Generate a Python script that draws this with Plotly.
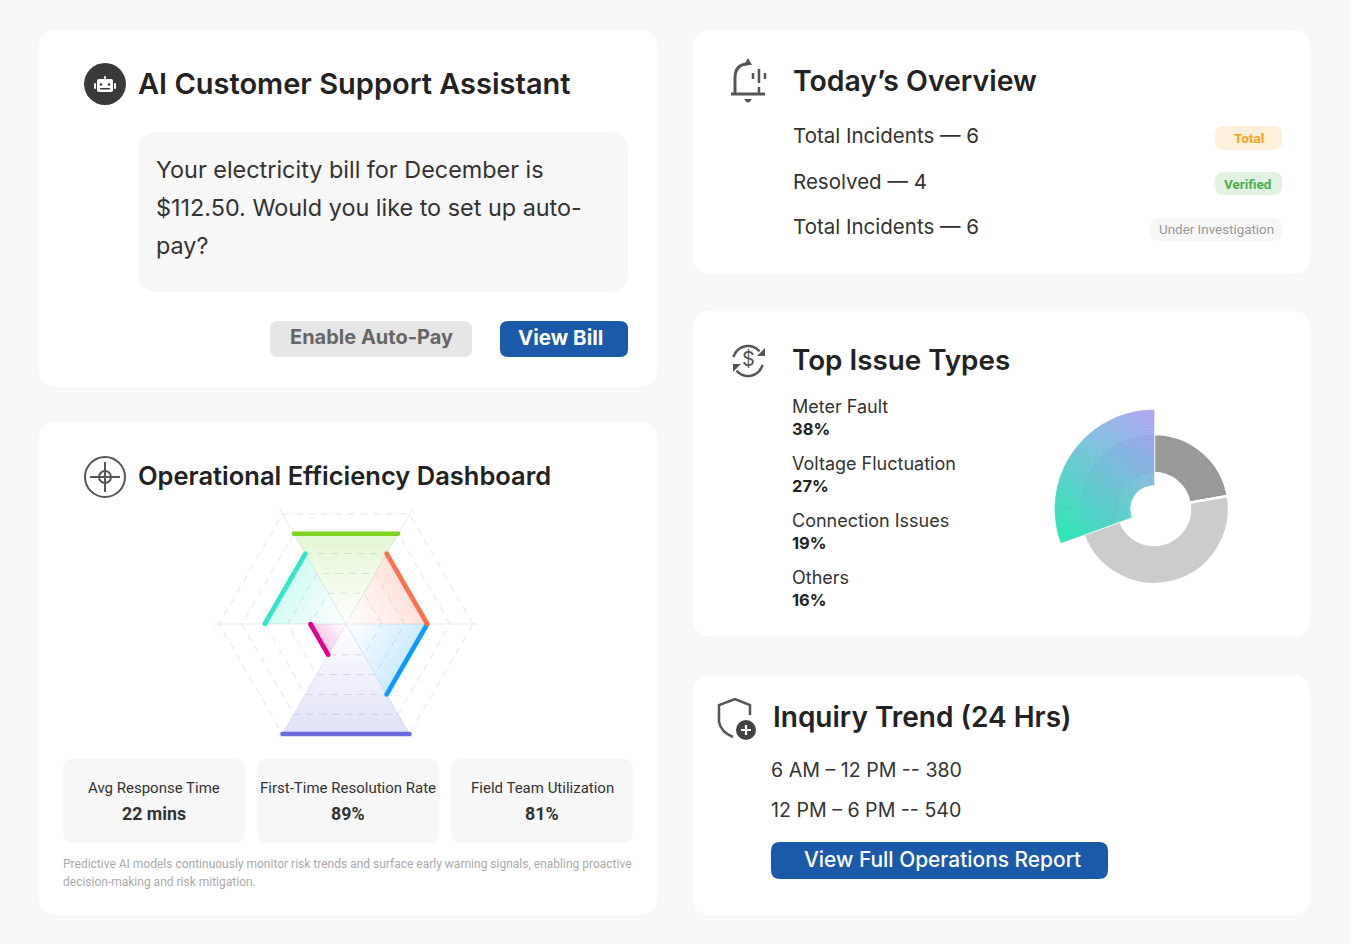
import numpy as np
import plotly.graph_objects as go

W, H = 1364, 944

# radar values, one per sector (outer ring = 100)
radar_vertices = ['East', 'North-East', 'North-West', 'West', 'South-West', 'South-East']
radar_start = [1, 2, 3, 4, 5, 0]
radar_values = [82, 64, 28, 100, 64, 64]
radar_colors = ['#7ed321', '#2ee6c8', '#e0008c', '#6c6ce0', '#0a9bff', '#ff6f50']
radar_rings = [28, 46, 64, 82, 100]

# donut slices in degrees
slice_names = ['Others', 'Voltage Fluctuation', 'Meter Fault']
slice_start = [0, 80, 250]
slice_end = [80, 250, 360]
slice_inner = [36, 36, 24]
slice_outer = [75, 75, 99]
slice_colors = ['#999999', '#cccccc', None]

issue_labels = ['Meter Fault', 'Voltage Fluctuation', 'Connection Issues', 'Others']
issue_percents = ['38%', '27%', '19%', '16%']
overview_rows = ['Total Incidents — 6', 'Resolved — 4', 'Total Incidents — 6']
trend_rows = ['6 AM – 12 PM -- 380', '12 PM – 6 PM -- 540']
stat_labels = ['Avg Response Time', 'First-Time Resolution Rate', 'Field Team Utilization']
stat_values = ['22 mins', '89%', '81%']
bubble_lines = ['Your electricity bill for December is',
                '$112.50. Would you like to set up auto-',
                'pay?']
caption_lines = ['Predictive AI models continuously monitor risk trends and surface early warning signals, enabling proactive',
                 'decision-making and risk mitigation.']

INK = '#222222'
ICON = '#555555'
BLUE = '#1a5aa8'
shapes = []
notes = []


def rrect(x0, y0, x1, y1, r, fill, layer='below'):
    p = (f'M{x0+r},{y0} L{x1-r},{y0} Q{x1},{y0} {x1},{y0+r} L{x1},{y1-r} Q{x1},{y1} {x1-r},{y1} '
         f'L{x0+r},{y1} Q{x0},{y1} {x0},{y1-r} L{x0},{y0+r} Q{x0},{y0} {x0+r},{y0} Z')
    shapes.append(dict(type='path', path=p, fillcolor=fill, line_width=0, layer=layer))


def stroke(path, color=ICON, width=2.5, fill=None):
    shapes.append(dict(type='path', path=path, line=dict(color=color, width=width),
                       fillcolor=fill, layer='above'))


def disc(cx, cy, r, fill=None, color=None, width=0):
    shapes.append(dict(type='circle', x0=cx-r, x1=cx+r, y0=cy-r, y1=cy+r, fillcolor=fill,
                       line=dict(color=color, width=width), layer='above'))


def arc(cx, cy, r, a0, a1):
    t = np.radians(np.linspace(a0, a1, 24))
    pts = [f'{cx+r*np.cos(a):.1f},{cy+r*np.sin(a):.1f}' for a in t]
    return 'M' + ' L'.join(pts)


def text(x, y, s, size, color=INK, weight=400, font='Inter', anchor='left'):
    # annotations sit 2px inside their anchor
    if anchor == 'left':
        x -= 2
    if font == 'Inter':
        y -= 0.7
    notes.append(dict(x=x, y=y, text=s, xref='x', yref='y', showarrow=False, xanchor=anchor, yanchor='middle',
                      font=dict(family=font, size=size, color=color, weight=weight)))


def mix(a, b, t):
    ca = [int(a[i:i+2], 16) for i in (1, 3, 5)]
    cb = [int(b[i:i+2], 16) for i in (1, 3, 5)]
    return [ca[i] + (cb[i] - ca[i]) * t for i in range(3)]


def rgba(hex_color, alpha):
    c = [int(hex_color[i:i+2], 16) for i in (1, 3, 5)]
    return f'rgba({c[0]},{c[1]},{c[2]},{alpha:.3f})'


# page colour stops short of the right edge
shapes.append(dict(type='rect', x0=0, x1=1350, y0=0, y1=H, fillcolor='#f8f8f8', line_width=0, layer='below'))

# cards
for box in [(39, 30, 657, 387), (39, 422, 657, 915), (693, 30, 1310, 274), (693, 311, 1310, 636), (693, 675, 1310, 915)]:
    rrect(*box, 18, 'white')

# assistant card
disc(105, 84, 21, fill='#3a3a3a')
rrect(97, 79, 113, 92, 2, 'white', 'above')
rrect(94, 83, 96, 89, 1, 'white', 'above')
rrect(114, 83, 116, 89, 1, 'white', 'above')
rrect(104, 76, 106, 79, 1, 'white', 'above')
disc(101, 84.5, 1.3, fill='#3a3a3a')
disc(109, 84.5, 1.3, fill='#3a3a3a')
rrect(100, 88, 110, 89.5, 0.5, '#3a3a3a', 'above')
text(138, 84, 'AI Customer Support Assistant', 29, weight=600)
rrect(138, 132, 628, 292, 20, '#f7f7f7')
for yy, line in zip([170, 208, 246], bubble_lines):
    text(156, yy, line, 23.4, color='#333333')
rrect(270, 321, 472, 357, 8, '#e6e6e6')
text(371, 338, 'Enable Auto-Pay', 20, color='#666666', weight=700, anchor='center')
rrect(500, 321, 628, 357, 8, BLUE)
text(560, 338, 'View Bill', 20.5, color='white', weight=700, anchor='center')

# dashboard card
disc(105, 477, 20, color=ICON, width=2)
disc(105, 477, 6, color=ICON, width=2)
stroke('M90,477 L120,477 M105,462 L105,492', width=2)
text(138, 476, 'Operational Efficiency Dashboard', 25.5, weight=600)
for x0, label, value in zip([63, 257, 451], stat_labels, stat_values):
    rrect(x0, 759, x0 + 182, 843, 10, '#f7f7f7')
    text(x0 + 91, 788, label, 15, color='#333333', font='Roboto', anchor='center')
    text(x0 + 91, 813, value, 17.8, color='#333333', font='Roboto', weight=700, anchor='center')
for yy, line in zip([864, 882], caption_lines):
    text(63, yy, line, 12, color='#aaaaaa', font='Roboto')

# overview card
stroke('M735,93 L735,78 Q735,64 748,64 M731,94 L765,94', width=3)
shapes.append(dict(type='path', path='M744,65 L748,58 L752,65 Z', fillcolor=ICON, line_width=0, layer='above'))
shapes.append(dict(type='path', path='M744,99 L752,99 Q748,106 744,99 Z', fillcolor=ICON, line_width=0, layer='above'))
stroke('M753,73 L753,79 M759,69 L759,83 M765,73 L765,79 M759,87 L759,93', width=2.5)
text(793, 81, 'Today’s Overview', 28.4, weight=600)
for yy, line in zip([136, 182, 227], overview_rows):
    text(793, yy, line, 20.5, color='#333333')
rrect(1215, 126, 1282, 150, 9, '#fff0dc')
text(1249, 138, 'Total', 13.5, color='#ff9f1a', font='Roboto', weight=700, anchor='center')
rrect(1215, 172, 1282, 195, 9, '#e2f2e2')
text(1247, 184, 'Verified', 13.5, color='#4caf50', font='Roboto', weight=700, anchor='center')
rrect(1150, 218, 1282, 241, 9, '#f7f7f7')
text(1216, 229, 'Under Investigation', 13.4, color='#999999', font='Roboto', anchor='center')

# issue card
stroke(arc(748, 361, 15, 195, 320), width=2.5)
stroke(arc(748, 361, 15, 15, 140), width=2.5)
shapes.append(dict(type='path', path='M757,356 L765,356 L765,348 Z', fillcolor=ICON, line_width=0, layer='above'))
shapes.append(dict(type='path', path='M733,364 L741,364 L733,372 Z', fillcolor=ICON, line_width=0, layer='above'))
text(748, 360, '$', 20, color=ICON, anchor='center')
text(792, 361, 'Top Issue Types', 27.8, weight=600)
for yy, label, pct in zip([407, 464, 521, 578], issue_labels, issue_percents):
    text(792, yy, label, 18, color='#333333')
    text(792, yy + 23, pct, 16.5, color='#222222', weight=700)

# trend card
stroke('M750,715 L750,705 L735,699 L719,705 L719,722 Q721,732 733,737', width=2.5)
disc(746, 730, 10, fill='#444444')
stroke('M741,730 L751,730 M746,725 L746,735', color='white', width=2.2)
text(773, 718, 'Inquiry Trend (24 Hrs)', 28, weight=600)
for yy, line in zip([771, 811], trend_rows):
    text(771, yy, line, 19.6, color='#333333')
rrect(771, 842, 1108, 879, 9, BLUE)
text(942, 860, 'View Full Operations Report', 20.9, color='white', anchor='center', weight=500)

fig = go.Figure()

# radar sectors: stacked bands fade the fill out towards the centre
n_vertices = len(radar_vertices)
for start, value, color in zip(radar_start, radar_values, radar_colors):
    a, b = radar_vertices[start], radar_vertices[(start + 1) % n_vertices]
    n = 20
    for i in range(n):
        f0, f1 = i / n, (i + 1) / n
        fig.add_trace(go.Scatterpolar(
            r=[value*f0, value*f1, value*f1, value*f0], theta=[a, a, b, b],
            mode='lines', fill='toself', fillcolor=rgba(color, 0.21 * (f0 + f1) / 2), line=dict(width=0),
            subplot='polar', hoverinfo='skip', showlegend=False))
for start, value, color in zip(radar_start, radar_values, radar_colors):
    a, b = radar_vertices[start], radar_vertices[(start + 1) % n_vertices]
    fig.add_trace(go.Scatterpolar(
        r=[value, value], theta=[a, b], mode='lines+markers',
        line=dict(color=color, width=4.6), marker=dict(color=color, size=4.6),
        subplot='polar', cliponaxis=False, showlegend=False))

# donut: greys are flat, the big slice is cut into small cells to carry its gradient
CX, CY = 1154, 509
for i in range(2):
    fig.add_trace(go.Barpolar(
        r=[slice_outer[i] - slice_inner[i]], base=[slice_inner[i]],
        theta=[(slice_start[i] + slice_end[i]) / 2], width=[slice_end[i] - slice_start[i]],
        name=slice_names[i], marker=dict(color=slice_colors[i], line=dict(color='white', width=2.5)),
        subplot='polar2', showlegend=False))
cell_r, cell_t, cell_c = [], [], []
th_edges = np.linspace(slice_start[2], slice_end[2], 31)
r_edges = np.linspace(slice_inner[2], slice_outer[2], 26)
for a0, a1 in zip(th_edges[:-1], th_edges[1:]):
    for r0, r1 in zip(r_edges[:-1], r_edges[1:]):
        am, rm = np.radians((a0 + a1) / 2), (r0 + r1) / 2
        dx, dy = rm * np.sin(am), -rm * np.cos(am)
        t = (dx * -93 + (dy + 98) * 127) / (93**2 + 127**2)
        t = min(max(t, 0), 1)
        c = mix('#b3a8f5', '#2ee6b6', t)
        if 36 < rm < 75:
            k = 0.15 * (1 - t)
            c = [c[j] + ([106, 106, 216][j] - c[j]) * k for j in range(3)]
        cell_r.append(r0)
        cell_t.append((a0 + a1) / 2)
        cell_c.append(f'rgb({c[0]:.0f},{c[1]:.0f},{c[2]:.0f})')
fig.add_trace(go.Barpolar(
    r=[r_edges[1] - r_edges[0]] * len(cell_r), base=cell_r, theta=cell_t, width=th_edges[1] - th_edges[0],
    name=slice_names[2], marker=dict(color=cell_c, line=dict(color=cell_c, width=0.6)),
    subplot='polar2', showlegend=False))

radar_px = 133
donut_px = 100
fig.update_layout(
    width=W, height=H, margin=dict(l=0, r=0, t=0, b=0),
    paper_bgcolor='white', plot_bgcolor='rgba(0,0,0,0)',
    xaxis=dict(range=[0, W], visible=False, domain=[0, 1]),
    yaxis=dict(range=[H, 0], visible=False, domain=[0, 1]),
    shapes=shapes, annotations=notes,
    polar=dict(
        domain=dict(x=[(346 - radar_px) / W, (346 + radar_px) / W], y=[1 - (624 + radar_px) / H, 1 - (624 - radar_px) / H]),
        bgcolor='rgba(0,0,0,0)', gridshape='linear',
        radialaxis=dict(range=[0, 104.7], tickvals=radar_rings, showticklabels=False, ticks='', showline=False,
                        gridcolor='#dfe5f0', griddash='7px,6px', gridwidth=1),
        angularaxis=dict(type='category', categoryorder='array', categoryarray=radar_vertices,
                         direction='counterclockwise', rotation=0,
                         showticklabels=False, ticks='', showline=False, gridcolor='#e6e9f1', gridwidth=1)),
    polar2=dict(
        domain=dict(x=[(CX - donut_px) / W, (CX + donut_px) / W], y=[1 - (CY + donut_px) / H, 1 - (CY - donut_px) / H]),
        bgcolor='rgba(0,0,0,0)', barmode='overlay',
        radialaxis=dict(range=[0, 100], visible=False),
        angularaxis=dict(direction='clockwise', rotation=90, visible=False)),
)

fig.write_html('out.html', config=dict(displayModeBar=False), post_script="document.body.style.margin='0';")
